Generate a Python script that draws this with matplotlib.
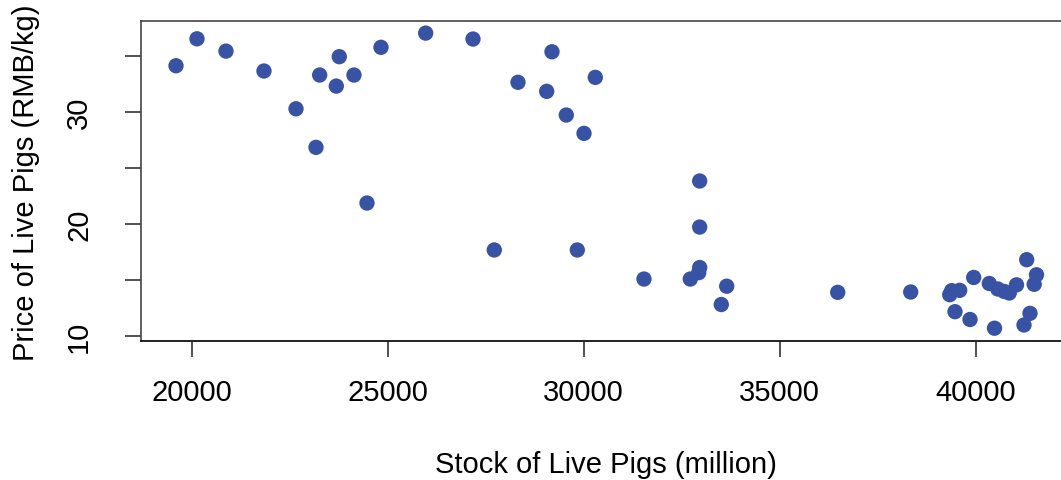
import matplotlib
matplotlib.use("Agg")
import matplotlib.pyplot as plt

stock = [19600, 20135, 20875, 21844, 23265, 23765, 23689, 24140, 24829, 25969,
         22661, 23171, 24472, 27176, 29191, 28324, 29056, 30296, 29556, 30008,
         32959, 32959, 27719, 29837, 31538, 32719, 32959, 32934, 33648, 33510,
         36480, 38342, 39337, 39388, 39592, 39949, 40347, 40564, 40727, 40855,
         41041, 41301, 41551, 41492, 39472, 39855, 40480, 41232, 41385]
price = [34.15, 36.56, 35.46, 33.68, 33.32, 34.96, 32.33, 33.32, 35.80, 37.07,
         30.30, 26.85, 21.87, 36.54, 35.40, 32.67, 31.86, 33.11, 29.74, 28.10,
         23.84, 19.72, 17.67, 17.67, 15.07, 15.07, 16.10, 15.64, 14.43, 12.79,
         13.88, 13.91, 13.67, 14.03, 14.06, 15.21, 14.67, 14.18, 13.96, 13.82,
         14.55, 16.80, 15.45, 14.60, 12.15, 11.45, 10.67, 10.96, 12.00]

x_ticks = [20000, 25000, 30000, 35000, 40000]
y_ticks = [10, 15, 20, 25, 30, 35]
y_tick_labels = ["10", "", "20", "", "30", ""]

plt.rcParams['font.family'] = ['Liberation Sans', 'DejaVu Sans']

W, H = 1061, 481
fig = plt.figure(figsize=(W / 100, H / 100), dpi=100)
left, right, top, bottom = 141, 1061, 21.7, 342.3
ax = fig.add_axes([left / W, 1 - bottom / H, (right - left) / W, (bottom - top) / H])

ax.scatter(stock, price, s=122, color='#3953A4', edgecolors='none', zorder=3)

ax.set_xlim(18707, 42176)
ax.set_ylim(9.5, 38.18)
ax.set_xticks(x_ticks)
ax.set_xticklabels([str(v) for v in x_ticks])
ax.set_yticks(y_ticks)
ax.set_yticklabels(y_tick_labels, rotation=90, va='center')

ax.tick_params(axis='x', length=11.5, width=1.1, pad=15, labelsize=21, color='#222222')
ax.tick_params(axis='y', length=11.5, width=1.1, pad=23, labelsize=21, color='#222222')

for s in ['top', 'left']:
    ax.spines[s].set_color('#444444')
    ax.spines[s].set_linewidth(1.2)
ax.spines['bottom'].set_color('#111111')
ax.spines['bottom'].set_linewidth(1.3)
ax.spines['right'].set_visible(False)

fig.text(26 / W, 1 - 183 / H, 'Price of Live Pigs (RMB/kg)', fontsize=21,
         rotation=90, ha='center', va='center')
fig.text(606 / W, 1 - 465 / H, 'Stock of Live Pigs (million)', fontsize=21,
         ha='center', va='center')

fig.savefig('out.png', dpi=100)
